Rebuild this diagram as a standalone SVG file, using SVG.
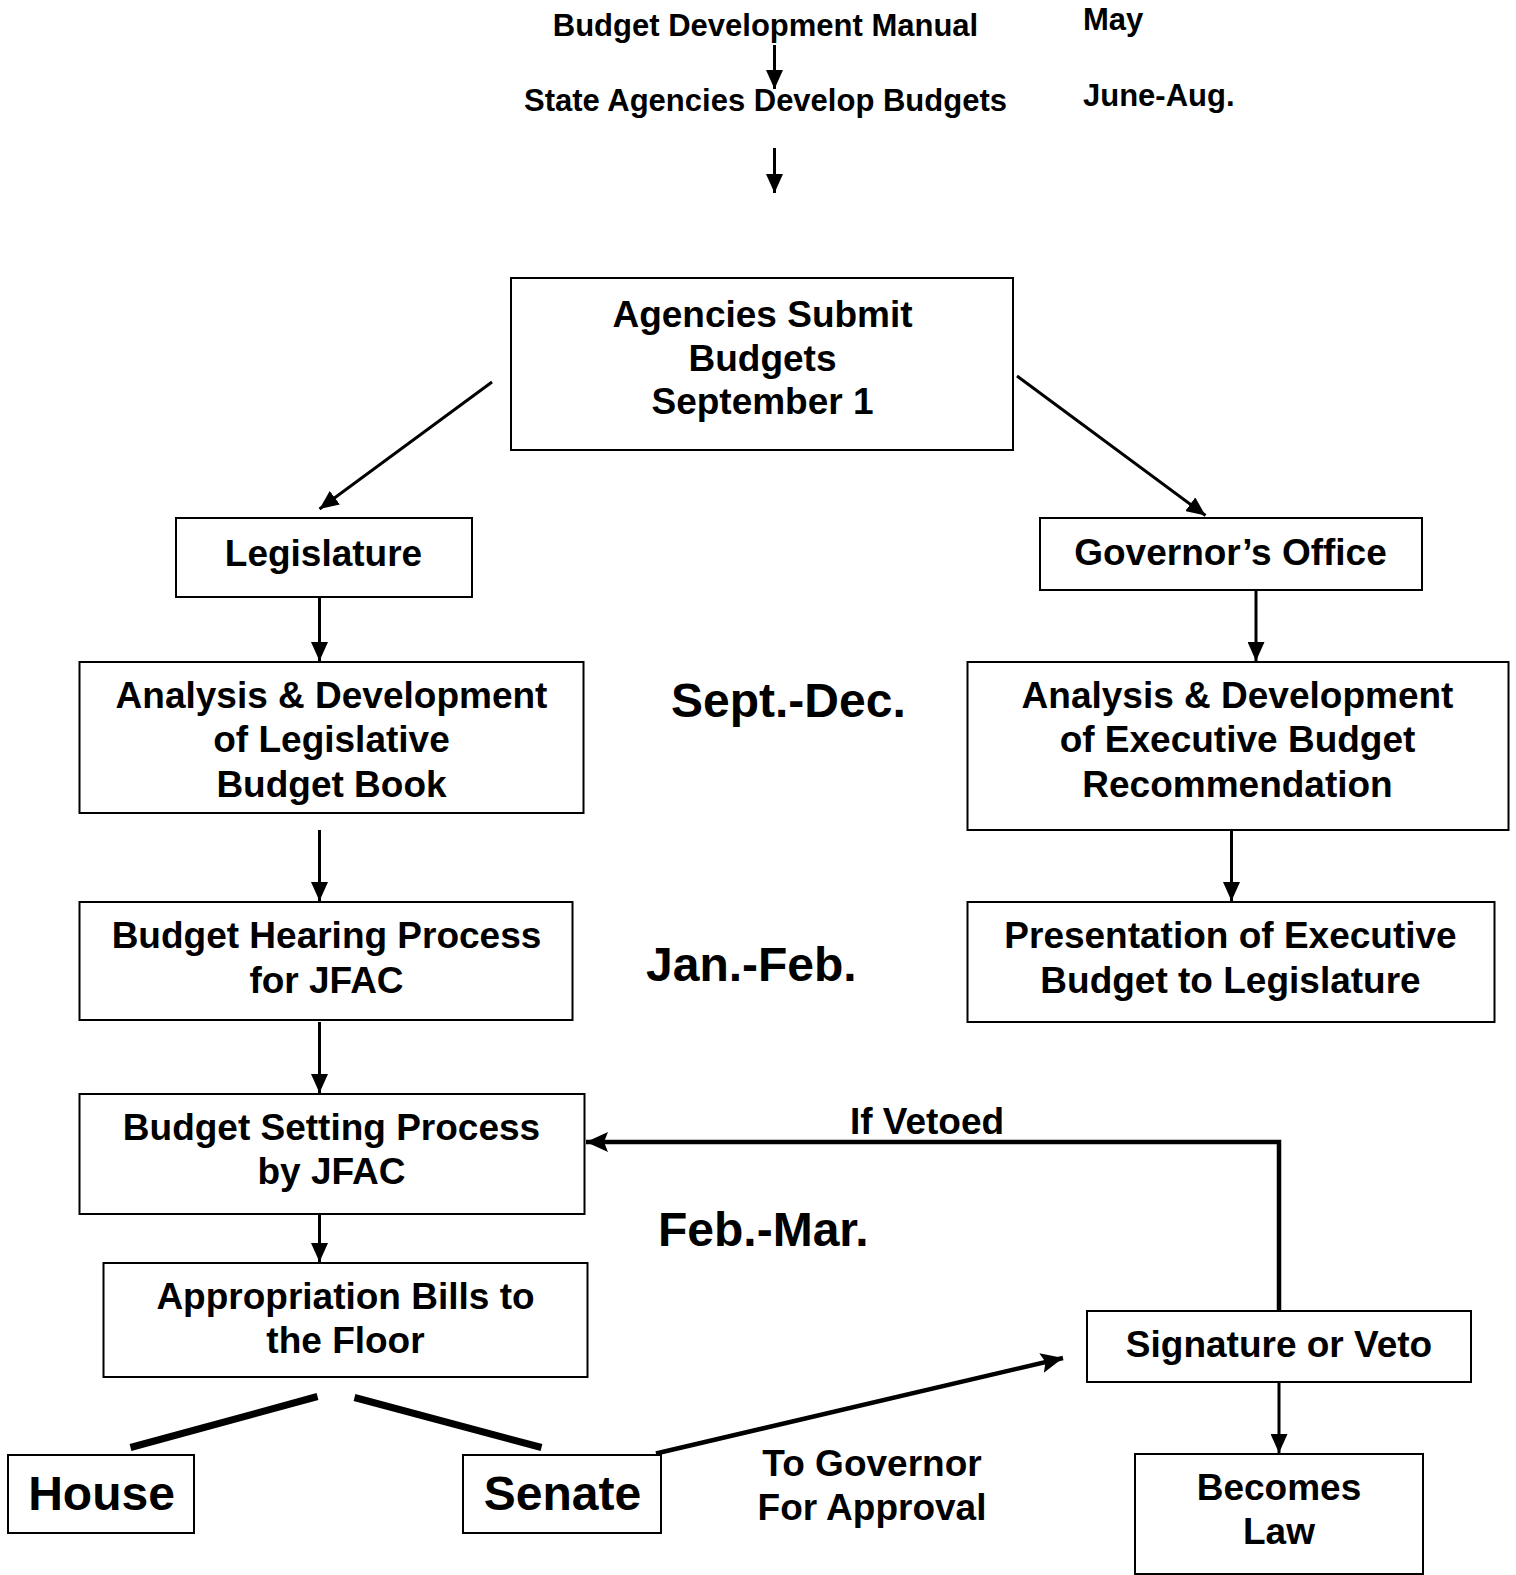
<svg xmlns="http://www.w3.org/2000/svg" width="1516" height="1575" viewBox="0 0 1516 1575">
<style>
.box{fill:#fff;stroke:#000;stroke-width:2}
text{font-family:"Liberation Sans",Arial,sans-serif;font-weight:bold;fill:#000}
.t{font-size:37px;text-anchor:middle}
.s{font-size:31px}
.b{font-size:48px}
.c{stroke:#000;fill:none}
.thin{stroke-width:3}
.med{stroke-width:4.5}
.fat{stroke-width:7}
</style>
<defs>
<marker id="ah" markerUnits="userSpaceOnUse" markerWidth="19" markerHeight="17" refX="19" refY="8.5" orient="auto"><path d="M0,0 L19,8.5 L0,17 z" fill="#000"/></marker>
<marker id="ahb" markerUnits="userSpaceOnUse" markerWidth="22" markerHeight="20" refX="22" refY="10" orient="auto"><path d="M0,0 L22,10 L0,20 L4,10 z" fill="#000"/></marker>
</defs>
<rect width="1516" height="1575" fill="#fff"/>
<g id="connectors">
<line class="c thin" x1="774.5" y1="45" x2="774.5" y2="89" marker-end="url(#ah)"/>
<line class="c thin" x1="774.5" y1="148" x2="774.5" y2="193" marker-end="url(#ah)"/>
<line class="c thin" x1="492" y1="382" x2="319.5" y2="509" marker-end="url(#ah)"/>
<line class="c thin" x1="1017" y1="376" x2="1205.5" y2="515.5" marker-end="url(#ah)"/>
<line class="c thin" x1="319.5" y1="597" x2="319.5" y2="661" marker-end="url(#ah)"/>
<line class="c thin" x1="1256" y1="590" x2="1256" y2="661" marker-end="url(#ah)"/>
<line class="c thin" x1="319.5" y1="830" x2="319.5" y2="901" marker-end="url(#ah)"/>
<line class="c thin" x1="1231.5" y1="830" x2="1231.5" y2="901" marker-end="url(#ah)"/>
<line class="c thin" x1="319.5" y1="1022" x2="319.5" y2="1093" marker-end="url(#ah)"/>
<line class="c thin" x1="319.5" y1="1214" x2="319.5" y2="1262" marker-end="url(#ah)"/>
<line class="c thin" x1="1279" y1="1382" x2="1279" y2="1453" marker-end="url(#ah)"/>
<path class="c med" d="M1279,1311 L1279,1142 L586,1142" marker-end="url(#ahb)"/>
<line class="c med" x1="656" y1="1453.5" x2="1063" y2="1358" marker-end="url(#ahb)"/>
<line class="c fat" x1="317.5" y1="1396.5" x2="130.5" y2="1447.5"/>
<line class="c fat" x1="354.5" y1="1397.5" x2="541.5" y2="1447.5"/>
</g>
<g id="labels">
<text class="s" x="765.5" y="36" text-anchor="middle">Budget Development Manual</text>
<text class="s" x="765.5" y="111" text-anchor="middle">State Agencies Develop Budgets</text>
<text class="s" x="1083" y="30">May</text>
<text class="s" x="1083" y="105.5">June-Aug.</text>
<text class="b" x="671" y="717">Sept.-Dec.</text>
<text class="b" x="646" y="980.5">Jan.-Feb.</text>
<text class="b" x="658" y="1245.5">Feb.-Mar.</text>
<text class="t" x="927" y="1134">If Vetoed</text>
<text class="t" x="872" y="1476">To Governor</text>
<text class="t" x="872" y="1520">For Approval</text>
</g>
<g id="agencies-submit">
<rect class="box" x="511" y="278" width="502" height="172"/>
<text class="t" x="762.5" y="326.5">Agencies Submit</text>
<text class="t" x="762.5" y="370.5">Budgets</text>
<text class="t" x="762.5" y="414">September 1</text>
</g>
<g id="legislature">
<rect class="box" x="176" y="518" width="296" height="79"/>
<text class="t" x="323.5" y="565.5">Legislature</text>
</g>
<g id="governors-office">
<rect class="box" x="1040" y="518" width="382" height="72"/>
<text class="t" x="1230.5" y="564.5">Governor’s Office</text>
</g>
<g id="analysis-legislative">
<rect class="box" x="79.5" y="662" width="504" height="151"/>
<text class="t" x="331.5" y="708">Analysis &amp; Development</text>
<text class="t" x="331.5" y="752">of Legislative</text>
<text class="t" x="331.5" y="796.5">Budget Book</text>
</g>
<g id="analysis-executive">
<rect class="box" x="967.5" y="662" width="541" height="168"/>
<text class="t" x="1237.5" y="708">Analysis &amp; Development</text>
<text class="t" x="1237.5" y="752">of Executive Budget</text>
<text class="t" x="1237.5" y="796.5">Recommendation</text>
</g>
<g id="hearing">
<rect class="box" x="79.5" y="902" width="493" height="118"/>
<text class="t" x="326.5" y="948">Budget Hearing Process</text>
<text class="t" x="326.5" y="992.5">for JFAC</text>
</g>
<g id="presentation">
<rect class="box" x="967.5" y="902" width="527" height="120"/>
<text class="t" x="1230.5" y="948">Presentation of Executive</text>
<text class="t" x="1230.5" y="992.5">Budget to Legislature</text>
</g>
<g id="setting">
<rect class="box" x="79.5" y="1094" width="505" height="120"/>
<text class="t" x="331.5" y="1140">Budget Setting Process</text>
<text class="t" x="331.5" y="1184">by JFAC</text>
</g>
<g id="appropriation">
<rect class="box" x="103.5" y="1263" width="484" height="114"/>
<text class="t" x="345.5" y="1309">Appropriation Bills to</text>
<text class="t" x="345.5" y="1353">the Floor</text>
</g>
<g id="house">
<rect class="box" x="8" y="1455" width="186" height="78"/>
<text class="b" x="101.5" y="1510" text-anchor="middle">House</text>
</g>
<g id="senate">
<rect class="box" x="463" y="1455" width="198" height="78"/>
<text class="b" x="562.5" y="1510" text-anchor="middle">Senate</text>
</g>
<g id="signature">
<rect class="box" x="1087" y="1311" width="384" height="71"/>
<text class="t" x="1279" y="1357">Signature or Veto</text>
</g>
<g id="becomes-law">
<rect class="box" x="1135" y="1454" width="288" height="120"/>
<text class="t" x="1279" y="1500">Becomes</text>
<text class="t" x="1279" y="1544">Law</text>
</g>
</svg>
